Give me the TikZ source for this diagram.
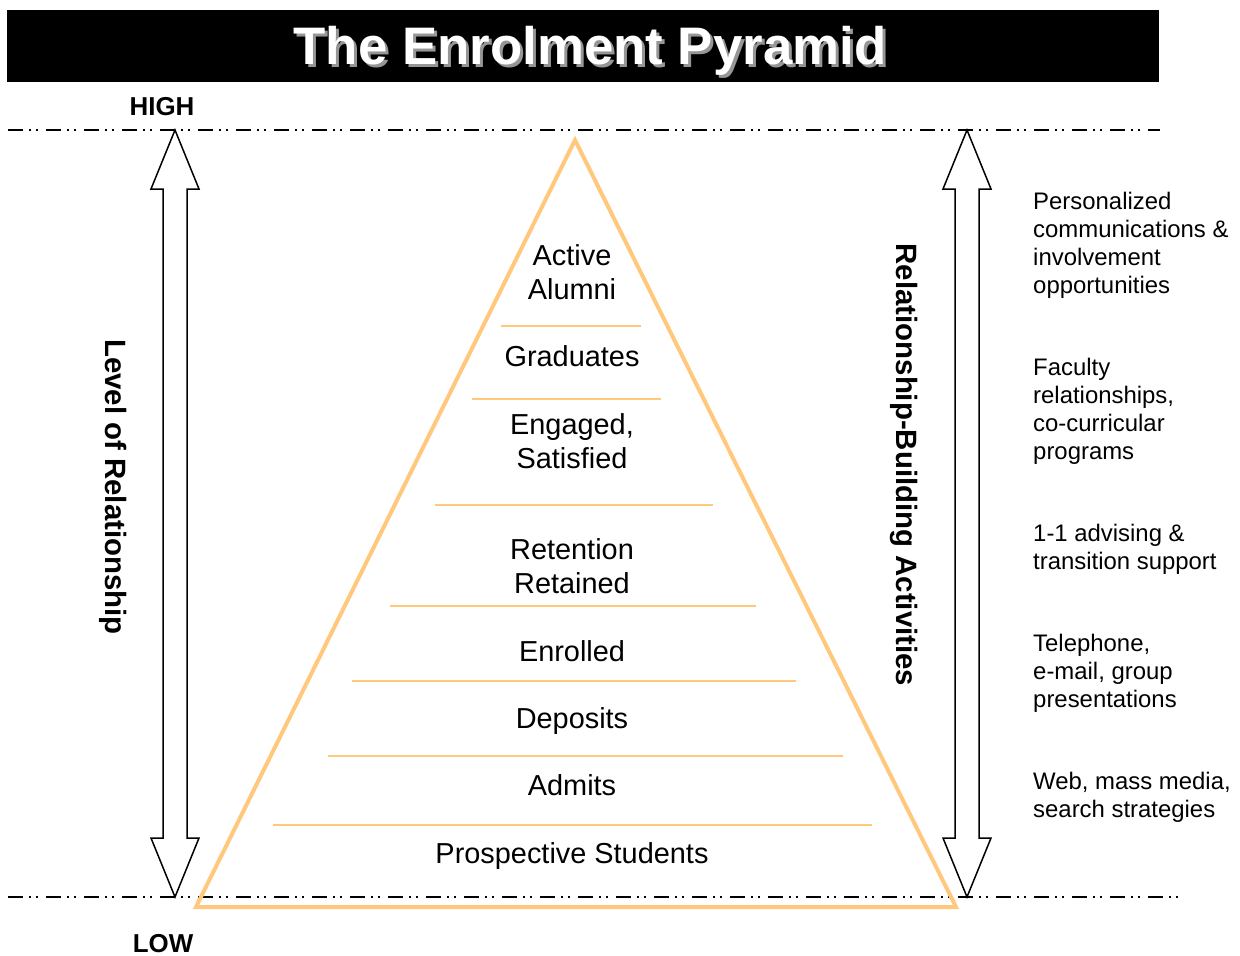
\documentclass[tikz,border=0pt]{standalone}
\usepackage{fontspec}
\setmainfont{Liberation Sans}
\definecolor{pyr}{RGB}{255,200,125}
\definecolor{shade}{RGB}{150,150,150}
\begin{document}
\begin{tikzpicture}[x=1bp,y=-1bp,
  lvl/.style={draw=pyr, line width=1.5bp},
  lbl/.style={font=\fontsize{29}{34}\selectfont, align=center, inner sep=0},
  side/.style={font=\fontsize{24}{28}\selectfont, align=left, inner sep=0, anchor=north west},
  guide/.style={line width=1.5bp, dash pattern=on 15bp off 6bp on 2bp off 5bp on 2bp off 8bp},
  bigarrow/.style={draw, line width=1.5bp, fill=white, line join=miter},
  axis/.style={font=\fontsize{26}{30}\selectfont\bfseries, inner sep=0},
  vert/.style={font=\fontsize{29.5}{32}\selectfont\bfseries, inner sep=0, rotate=-90}]
\useasboundingbox (0,0) rectangle (1240,956);
% title
\fill[black] (7,10) rectangle (1159,82);
\node[font=\fontsize{53}{60}\selectfont\bfseries, text=shade, inner sep=0] (titleshadow) at (593,54) {The Enrolment Pyramid};
\node[font=\fontsize{53}{60}\selectfont\bfseries, text=white, inner sep=0] (title) at (590,51) {The Enrolment Pyramid};
% HIGH / LOW
\node[axis] (high) at (162,107) {HIGH};
\node[axis] (low) at (163,944) {LOW};
% guide lines
\coordinate (gtl) at (8,130); \coordinate (gtr) at (1160,130);
\coordinate (gbl) at (8,897); \coordinate (gbr) at (1180,897);
\draw[guide] (gtl) -- (gtr);
\draw[guide] (gbl) -- (gbr);
% double arrows
\draw[bigarrow] (175,130) -- (199,189) -- (187,189) -- (187,838) -- (199,838) -- (175,897) -- (151,838) -- (163,838) -- (163,189) -- (151,189) -- cycle;
\draw[bigarrow] (967,130) -- (991,189) -- (979,189) -- (979,838) -- (991,838) -- (967,897) -- (943,838) -- (955,838) -- (955,189) -- (943,189) -- cycle;
\node[vert] (levelrel) at (113,487) {Level of Relationship};
\node[vert] (rba) at (904,465) {Relationship-Building Activities};
% pyramid
\draw[draw=pyr, line width=4bp, line join=miter] (575,140) -- (956,907) -- (196,907) -- cycle;
\draw[lvl] (501,326) -- (641,326);
\draw[lvl] (472,399) -- (661,399);
\draw[lvl] (435,505) -- (713,505);
\draw[lvl] (390,606) -- (756,606);
\draw[lvl] (352,681) -- (796,681);
\draw[lvl] (328,756) -- (843,756);
\draw[lvl] (273,825) -- (872,825);
% pyramid labels
\node[lbl] (alumni) at (572,272) {Active\\Alumni};
\node[lbl] (grad) at (572,356) {Graduates};
\node[lbl] (engaged) at (572,441) {Engaged,\\Satisfied};
\node[lbl] (retained) at (572,566) {Retention\\Retained};
\node[lbl] (enrolled) at (572,651) {Enrolled};
\node[lbl] (deposits) at (572,721) {Deposits};
\node[lbl] (admits) at (572,785) {Admits};
\node[lbl] (prospects) at (572,856) {Prospective Students};
% side texts
\node[side] (s1) at (1033,192) {Personalized\\communications \&\\involvement\\opportunities};
\node[side] (s2) at (1033,358) {Faculty\\relationships,\\co-curricular\\programs};
\node[side] (s3) at (1033,524) {1-1 advising \&\\transition support};
\node[side] (s4) at (1033,634) {Telephone,\\e-mail, group\\presentations};
\node[side] (s5) at (1033,772) {Web, mass media,\\search strategies};
\end{tikzpicture}
\end{document}
